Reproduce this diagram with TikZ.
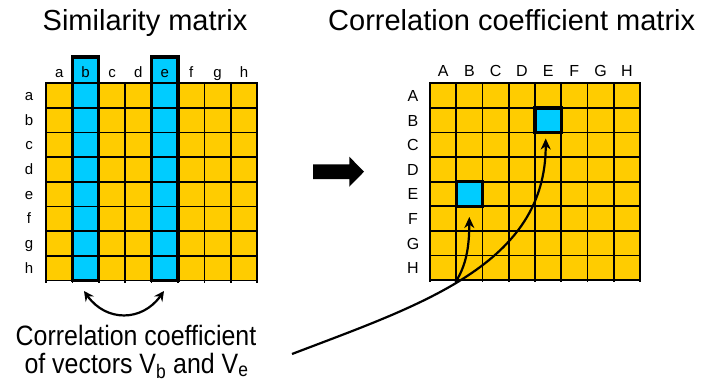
\documentclass[tikz,border=0pt]{standalone}
\usepackage{fontspec}
\setmainfont{Liberation Sans}
\usetikzlibrary{arrows.meta}
\definecolor{cellyellow}{HTML}{FFCC00}
\definecolor{cellblue}{HTML}{00CCFF}
\begin{document}
\begin{tikzpicture}[x=1pt,y=-1pt,
  gridline/.style={line width=1.7pt,black},
  hlbox/.style={line width=3.2pt,black},
  conn/.style={line width=2.2pt,-{Stealth[length=11pt,width=10pt,inset=3.5pt]}},
  biconn/.style={line width=2.2pt,{Stealth[length=10pt,width=10pt,inset=3.5pt]}-{Stealth[length=10pt,width=10pt,inset=3.5pt]}},
  titletext/.style={font=\fontsize{29}{34}\selectfont,anchor=base,inner sep=0pt},
  lowlbl/.style={font=\fontsize{15}{18}\selectfont,anchor=base,inner sep=0pt},
  caplbl/.style={font=\fontsize{16}{19}\selectfont,anchor=base,inner sep=0pt},
  bottomtext/.style={font=\fontsize{28}{32}\selectfont,anchor=base,inner sep=0pt},
]
\useasboundingbox (0,0) rectangle (703,383);

% ---------- titles ----------
\node[titletext] (title1) at (145,30.7) {Similarity matrix};
\node[titletext] (title2) at (511.7,30.7) {Correlation coefficient matrix};

% ---------- left matrix ----------
\def\lx{46}\def\ly{83}\def\cw{26.4}\def\ch{24.7}
\fill[cellyellow] (\lx,\ly) rectangle (\lx+8*\cw,\ly+8*\ch);
\fill[cellblue] (\lx+1*\cw,57) rectangle (\lx+2*\cw,\ly+8*\ch);
\fill[cellblue] (\lx+4*\cw,57) rectangle (\lx+5*\cw,\ly+8*\ch);
\foreach \i in {0,...,8}{
  \draw[gridline] (\lx+\i*\cw,\ly-1) -- (\lx+\i*\cw,\ly+8*\ch+2);
  \draw[gridline] (\lx,\ly+\i*\ch) -- (\lx+8*\cw,\ly+\i*\ch);
}
\draw[hlbox] (\lx+1*\cw,57) rectangle (\lx+2*\cw,\ly+8*\ch);
\draw[hlbox] (\lx+4*\cw,57) rectangle (\lx+5*\cw,\ly+8*\ch);
\foreach \l [count=\i from 0] in {a,b,c,d,e,f,g,h}{
  \node[lowlbl] (lcol\l) at (\lx+\i*\cw+0.5*\cw,77.3) {\l};
  \node[lowlbl] (lrow\l) at (29,\ly+\i*\ch+0.5*\ch+5) {\l};
}
\coordinate (vb) at (84,291);
\coordinate (ve) at (164,291);
\draw[biconn] (vb) .. controls (106,322) and (142,322) .. (ve);

% ---------- big arrow ----------
\fill[black] (313,164.3) -- (349.3,164.3) -- (349.3,156.7) -- (364,171.7)
  -- (349.3,186.7) -- (349.3,179) -- (313,179) -- cycle;

% ---------- right matrix ----------
\def\rx{430}\def\ry{83.3}\def\rw{26.25}\def\rh{24.6}
\fill[cellyellow] (\rx,\ry) rectangle (\rx+8*\rw,\ry+8*\rh);
\fill[cellblue] (\rx+4*\rw,\ry+1*\rh) rectangle (\rx+5*\rw,\ry+2*\rh);
\fill[cellblue] (\rx+1*\rw,\ry+4*\rh) rectangle (\rx+2*\rw,\ry+5*\rh);
\foreach \i in {0,...,8}{
  \draw[gridline] (\rx+\i*\rw,\ry-1) -- (\rx+\i*\rw,\ry+8*\rh+2);
  \draw[gridline] (\rx,\ry+\i*\rh) -- (\rx+8*\rw,\ry+\i*\rh);
}
\draw[hlbox] (\rx+4*\rw,\ry+1*\rh) rectangle (\rx+5*\rw,\ry+2*\rh);
\draw[hlbox] (\rx+1*\rw,\ry+4*\rh) rectangle (\rx+2*\rw,\ry+5*\rh);
\foreach \l [count=\i from 0] in {A,B,C,D,E,F,G,H}{
  \node[caplbl] (rcol\l) at (\rx+\i*\rw+0.5*\rw,76.7) {\l};
  \node[caplbl] (rrow\l) at (413,\ry+\i*\rh+0.5*\rh+5.8) {\l};
}

% ---------- bottom text ----------
\node[bottomtext] (txtA) at (136,345.5) {\scalebox{0.89}[1]{Correlation coefficient}};
\node[bottomtext] (txtB) at (136.5,373) {\scalebox{0.89}[1]{of vectors V\textsubscript{b} and V\textsubscript{e}}};

% ---------- connectors ----------
\coordinate (src) at (292,354);
\coordinate (split) at (455.5,282);
\coordinate (tipBE) at (545.7,138.5);
\coordinate (tipEB) at (469.3,217);
\draw[conn] (src) .. controls (420,305) and (546,265) .. (tipBE);
\draw[conn] (split) .. controls (466,266) and (469.3,247) .. (tipEB);
\end{tikzpicture}
\end{document}
